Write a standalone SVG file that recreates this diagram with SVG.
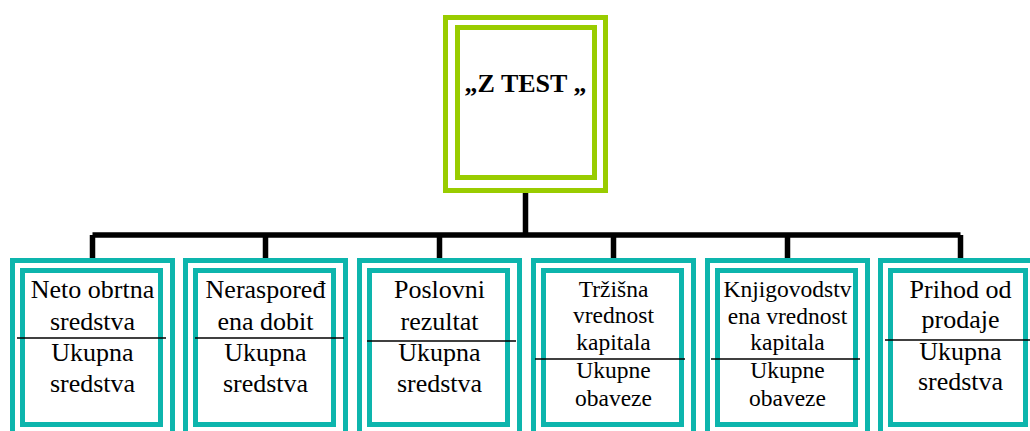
<svg xmlns="http://www.w3.org/2000/svg" width="1030" height="431" viewBox="0 0 1030 431">
  <style>
    .frame-g { fill: none; stroke: #99cc00; stroke-width: 5; }
    .frame-t { fill: none; stroke: #0db5ad; stroke-width: 5; }
    .wire { fill: none; stroke: #000; stroke-width: 5.5; }
    .rule { stroke: #000; stroke-width: 1.6; }
  </style>
  <rect width="1030" height="431" fill="#fff"/>

  <!-- tree connectors -->
  <g id="connectors">
    <path class="wire" d="M525.5 193 V235 M92.5 235 H960.5 M92.5 235 V259 M265.5 235 V259 M439.5 235 V259 M613.5 235 V259 M787.5 235 V259 M960.5 235 V259"/>
  </g>

  <!-- root -->
  <g id="root">
    <rect class="frame-g" x="445.5" y="17.5" width="160" height="173"/>
    <rect class="frame-g" x="457.5" y="27.5" width="137" height="150"/>
    <text x="525.5" y="92" font-family="Liberation Serif, serif" font-weight="bold" font-size="26" text-anchor="middle">„Z TEST „</text>
  </g>

  <!-- ratio boxes: 26px labels -->
  <g font-family="Liberation Serif, serif" font-size="26" text-anchor="middle">
    <g id="box1">
      <rect class="frame-t" x="12.5" y="260.5" width="160" height="174"/>
      <rect class="frame-t" x="22.5" y="270.5" width="138" height="154"/>
      <line class="rule" x1="17" y1="338" x2="166" y2="338"/>
      <text x="92.5" y="298">Neto obrtna</text>
      <text x="92.5" y="330">sredstva</text>
      <text x="92.5" y="361">Ukupna</text>
      <text x="92.5" y="392">sredstva</text>
    </g>

    <g id="box2">
      <rect class="frame-t" x="185.5" y="260.5" width="160" height="174"/>
      <rect class="frame-t" x="195.5" y="270.5" width="138" height="154"/>
      <line class="rule" x1="195" y1="338" x2="344" y2="338"/>
      <text x="265.5" y="298">Neraspoređ</text>
      <text x="265.5" y="330">ena dobit</text>
      <text x="265.5" y="361">Ukupna</text>
      <text x="265.5" y="392">sredstva</text>
    </g>

    <g id="box3">
      <rect class="frame-t" x="359.5" y="260.5" width="160" height="174"/>
      <rect class="frame-t" x="369.5" y="270.5" width="138" height="154"/>
      <line class="rule" x1="367" y1="341" x2="516" y2="341"/>
      <text x="439.5" y="298">Poslovni</text>
      <text x="439.5" y="330">rezultat</text>
      <text x="439.5" y="361">Ukupna</text>
      <text x="439.5" y="392">sredstva</text>
    </g>

    <g id="box6">
      <rect class="frame-t" x="880.5" y="260.5" width="160" height="174"/>
      <rect class="frame-t" x="890.5" y="270.5" width="135" height="154"/>
      <line class="rule" x1="885" y1="340" x2="1030" y2="340"/>
      <text x="960.5" y="298">Prihod od</text>
      <text x="960.5" y="328">prodaje</text>
      <text x="960.5" y="360">Ukupna</text>
      <text x="960.5" y="390">sredstva</text>
    </g>
  </g>

  <!-- ratio boxes: 23.5px labels -->
  <g font-family="Liberation Serif, serif" font-size="23.5" text-anchor="middle">
    <g id="box4">
      <rect class="frame-t" x="533.5" y="260.5" width="160" height="174"/>
      <rect class="frame-t" x="543.5" y="270.5" width="138" height="154"/>
      <line class="rule" x1="535" y1="359" x2="685" y2="359"/>
      <text x="613.5" y="297">Tržišna</text>
      <text x="613.5" y="323">vrednost</text>
      <text x="613.5" y="350">kapitala</text>
      <text x="613.5" y="378">Ukupne</text>
      <text x="613.5" y="406">obaveze</text>
    </g>

    <g id="box5">
      <rect class="frame-t" x="707.5" y="260.5" width="160" height="174"/>
      <rect class="frame-t" x="717.5" y="270.5" width="138" height="154"/>
      <line class="rule" x1="711" y1="359" x2="860" y2="359"/>
      <text x="787.5" y="297">Knjigovodstv</text>
      <text x="787.5" y="324">ena vrednost</text>
      <text x="787.5" y="350">kapitala</text>
      <text x="787.5" y="378">Ukupne</text>
      <text x="787.5" y="406">obaveze</text>
    </g>
  </g>
</svg>
